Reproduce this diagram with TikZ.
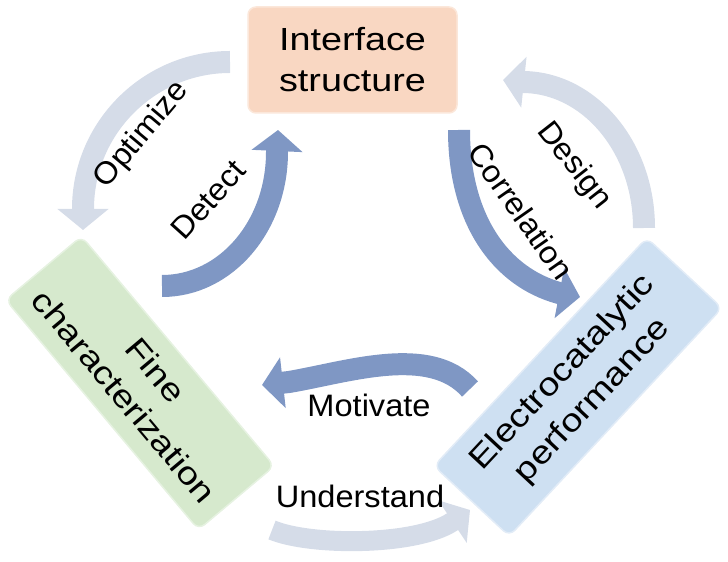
\documentclass[tikz,border=0pt]{standalone}
\usepackage{fontspec}
\setmainfont[FakeStretch=1.05]{Liberation Sans}
\newfontfamily\boxfont[FakeStretch=1.18]{Liberation Sans}
\usetikzlibrary{arrows.meta,backgrounds}

\definecolor{peach}{HTML}{F9D7C2}
\definecolor{mint}{HTML}{D6E9CD}
\definecolor{sky}{HTML}{CEE0F2}
\definecolor{banddark}{HTML}{7F97C4}
\definecolor{bandlight}{HTML}{D5DCE8}

\tikzset{
  stage/.style={draw=#1!60!white, fill=#1, rounded corners=8pt, line width=1.5pt,
    align=center, inner sep=0pt, font=\boxfont\fontsize{32}{41}\selectfont},
  loopband/.style={line width=22pt, -{Triangle[width=50pt,length=21pt]}},
  darkband/.style={loopband, draw=banddark},
  lightband/.style={loopband, draw=bandlight},
  verb/.style={inner sep=0pt, font=\fontsize{31}{37}\selectfont},
}

\begin{document}
\begin{tikzpicture}[x=1pt, y=1pt]
    \useasboundingbox (0,0) rectangle (728,562);

    % Define nodes
    \node[stage=peach, minimum width=209pt, minimum height=106pt] (interface) at (352.5,502) {Interface\\structure};
    \node[stage=mint, rotate=-50, minimum width=300pt, minimum height=99pt] (fine) at (140,179) {Fine\\characterization};
    \node[stage=sky, rotate=47, minimum width=312pt, minimum height=103pt] (electro) at (578,175) {Electrocatalytic\\performance};

    % Labels
    \node[verb, rotate=50]  (optimize)    at (142,427) {Optimize};
    \node[verb, rotate=48]  (detect)      at (208,362) {Detect};
    \node[verb, rotate=-55] (correlation) at (521,351) {Correlation};
    \node[verb, rotate=-52] (design)      at (574,396) {Design};
    \node[verb, anchor=base] (motivate)   at (369,145) {Motivate};
    \node[verb, anchor=base] (understand) at (360,54)  {Understand};

    % Arrow ends
    \coordinate (opt-s) at (230,500); \coordinate (opt-b) at (83,353);  \coordinate (opt-t) at (83,332);
    \coordinate (det-s) at (162,276); \coordinate (det-b) at (277,410); \coordinate (det-t) at (278,432);
    \coordinate (cor-s) at (459,432); \coordinate (cor-b) at (559,269); \coordinate (cor-t) at (580,265);
    \coordinate (des-s) at (644,334); \coordinate (des-b) at (522,480); \coordinate (des-t) at (503,482);
    \coordinate (mot-s) at (470,173); \coordinate (mot-b) at (289,180); \coordinate (mot-t) at (262,177);
    \coordinate (und-s) at (272,32);  \coordinate (und-b) at (452,40);  \coordinate (und-t) at (470,52);

    % Connect the nodes
    \begin{scope}[on background layer]
      \draw[lightband] (opt-s) .. controls (149,500) and (83,434) .. (opt-b) -- (opt-t);
      \draw[darkband]  (det-s) .. controls (226,276) and (277,336) .. (det-b) -- (det-t);
      \draw[darkband]  (cor-s) .. controls (459,342) and (501,285) .. (cor-b) -- (cor-t);
      \draw[lightband] (des-s) .. controls (644,415) and (589,480) .. (des-b) -- (des-t);
      \draw[darkband]  (mot-s) .. controls (430,218) and (348,190) .. (mot-b) -- (mot-t);
      \draw[lightband, line width=20pt] (und-s) .. controls (310,16) and (415,16) .. (und-b) -- (und-t);
    \end{scope}

\end{tikzpicture}
\end{document}
